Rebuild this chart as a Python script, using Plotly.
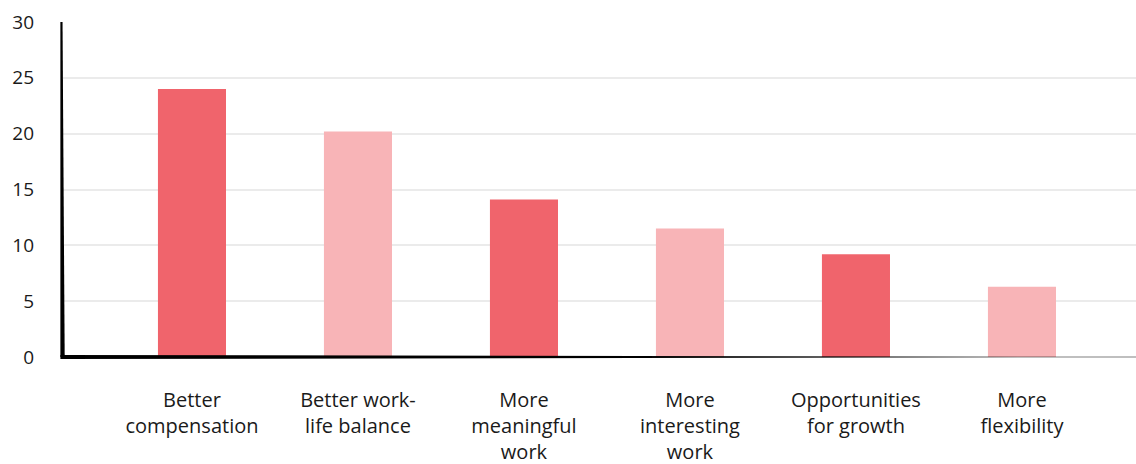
import plotly.graph_objects as go

categories = ["Better<br>compensation", "Better work-<br>life balance", "More<br>meaningful<br>work",
              "More<br>interesting<br>work", "Opportunities<br>for growth", "More<br>flexibility"]
values = [24, 20.2, 14.1, 11.5, 9.2, 6.3]
colors = ["#F0646C", "#F8B4B7", "#F0646C", "#F8B4B7", "#F0646C", "#F8B4B7"]
y_ticks = [0, 5, 10, 15, 20, 25, 30]

fig = go.Figure(go.Bar(x=list(range(len(categories))), y=values, marker_color=colors,
                       marker_line_width=0, width=0.41))

fig.update_layout(
    width=1136, height=464, margin=dict(l=62, r=0, t=22, b=107),
    plot_bgcolor="white", paper_bgcolor="white", showlegend=False,
    font=dict(family="Open Sans", size=20, color="#1a1a1a"),
    xaxis=dict(range=[-0.783, 5.687], tickmode="array", tickvals=list(range(len(categories))),
               ticktext=categories, showgrid=False, zeroline=False, showline=False,
               ticks="", ticklabelstandoff=29, automargin=False),
    yaxis=dict(range=[0, 30], tickvals=y_ticks, showgrid=True, gridcolor="#ebebeb", gridwidth=2,
               zeroline=False, showline=False, ticks="", ticklabelstandoff=27,
               tickfont=dict(size=19), automargin=False),
)

# tapered sketch-style axis lines (paper coordinates)
fig.add_shape(type="path", xref="paper", yref="paper",
              path="M -0.0015,1 L 0.0005,1 L 0.0025,0 L -0.0015,0 Z",
              fillcolor="black", line_width=0, layer="above")
fig.add_shape(type="path", xref="paper", yref="paper",
              path="M -0.0015,0.006 L 1,0.0005 L 1,-0.0005 L -0.0015,-0.006 Z",
              fillcolor="black", line_width=0, layer="above")

fig.write_html("out.html")
